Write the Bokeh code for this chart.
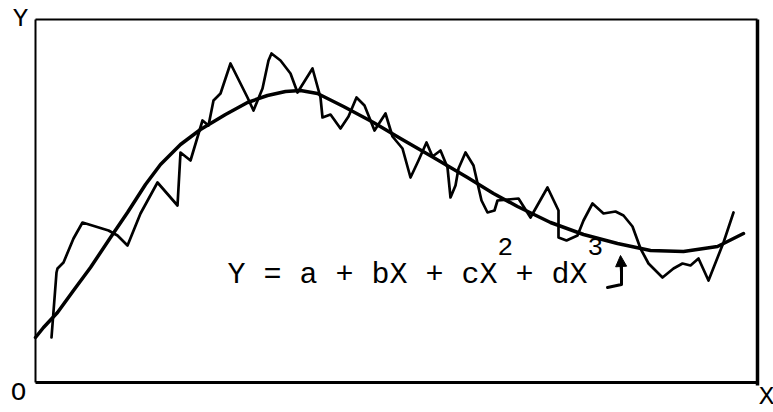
from bokeh.plotting import figure
from bokeh.models import Label, Arrow, NormalHead, Range1d
from bokeh.embed import file_html
from bokeh.resources import INLINE

# Observed series (x, y) in drawing units; frame spans 0..722 by 0..363
obs_x = [16, 21, 22, 28, 38, 47, 73, 82, 92, 105, 122, 142, 145, 155, 167, 173,
         178, 185, 195, 205, 212, 218, 227, 233, 236, 245, 255, 262, 277, 285,
         287, 295, 305, 313, 321, 329, 339, 350, 357, 367, 375, 383, 391, 397,
         405, 412, 415, 420, 423, 430, 438, 443, 446, 452, 459, 462, 483, 495,
         512, 523, 523, 531, 542, 548, 557, 568, 580, 588, 597, 605, 613, 627,
         638, 647, 655, 663, 673, 688, 698]
obs_y = [45, 110, 114, 120, 144, 160, 152, 147, 137, 169, 200, 177, 230, 222,
         262, 257, 282, 289, 319, 299, 285, 272, 294, 322, 329, 322, 309, 290,
         314, 285, 265, 268, 254, 266, 285, 277, 252, 269, 246, 234, 205, 222,
         240, 226, 232, 215, 185, 197, 214, 230, 217, 195, 182, 170, 172, 182,
         184, 165, 195, 172, 145, 142, 147, 162, 179, 169, 171, 167, 156, 134,
         119, 105, 114, 119, 117, 124, 102, 140, 170]

# Fitted cubic trend Y = a + bX + cX^2 + dX^3, sampled along the drawn curve
fit_x = [0, 8, 22, 38, 55, 75, 92, 110, 125, 145, 165, 190, 212, 232, 250, 265,
         282, 308, 338, 365, 398, 432, 458, 482, 515, 548, 582, 615, 648, 682, 708]
fit_y = [45, 55, 70, 92, 115, 145, 170, 198, 218, 238, 253, 268, 280, 287, 291,
         292, 289, 276, 260, 244, 225, 205, 189, 176, 160, 148, 139, 132, 131,
         136, 149]

X_MAX = 722
Y_MAX = 363

FONT = "Liberation Mono"

p = figure(width=773, height=412, output_backend="svg", toolbar_location=None,
           x_range=Range1d(-35, 738), y_range=Range1d(-30, 382),
           min_border=0, min_border_left=0, min_border_right=0,
           min_border_top=0, min_border_bottom=0)
p.axis.visible = False
p.grid.visible = False
p.outline_line_color = None
p.background_fill_color = "white"
p.border_fill_color = "white"

# Box around the plotting area
p.line([0, 0], [0, Y_MAX], line_color="black", line_width=2)
p.line([0, X_MAX], [Y_MAX, Y_MAX], line_color="black", line_width=2.2)
p.line([0, X_MAX], [0, 0], line_color="black", line_width=3.2)
p.line([X_MAX, X_MAX], [-3, Y_MAX], line_color="black", line_width=3.5)

# Observed series and the fitted cubic
p.line(obs_x, obs_y, line_color="black", line_width=2.7,
       line_join="round", line_cap="round")
p.line(fit_x, fit_y, line_color="black", line_width=3.5,
       line_join="round", line_cap="round")

# Axis letters
for txt, x, y in [("Y", -15, 364), ("O", -17, -10), ("X", 731, -14)]:
    p.add_layout(Label(x=x, y=y, text=txt, text_font=FONT, text_font_size="26px",
                       text_align="center", text_baseline="middle",
                       text_color="black"))

# Equation of the fitted curve
eq_left = 192
eq_base = 108
pitch = 18
p.add_layout(Label(x=eq_left, y=eq_base, text="Y = a + bX + cX + dX",
                   text_font=FONT, text_font_size="30px", text_align="left",
                   text_baseline="alphabetic", text_color="black"))
p.add_layout(Label(x=eq_left + 15 * pitch, y=eq_base + 28, text="2",
                   text_font=FONT, text_font_size="26px", text_align="left",
                   text_baseline="alphabetic", text_color="black"))
p.add_layout(Label(x=eq_left + 20 * pitch, y=eq_base + 28, text="3",
                   text_font=FONT, text_font_size="26px", text_align="left",
                   text_baseline="alphabetic", text_color="black"))

# Pointer from the equation to the fitted curve
p.line([572, 586, 586], [95, 98, 118], line_color="black", line_width=3,
       line_join="round", line_cap="round")
p.add_layout(Arrow(end=NormalHead(size=11, fill_color="black", line_color="black"),
                   x_start=586, y_start=110, x_end=585, y_end=127,
                   line_color="black", line_width=3))

open("out.html", "w").write(file_html(p, INLINE))
